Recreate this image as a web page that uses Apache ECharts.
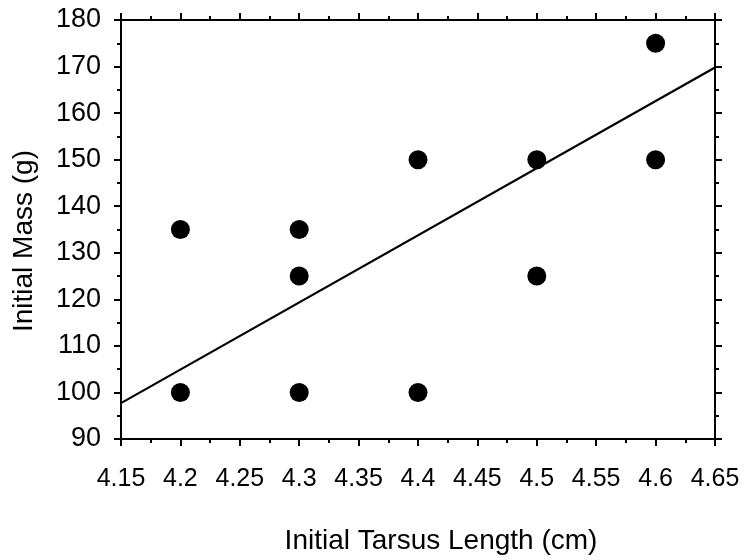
<!DOCTYPE html>
<html>
<head>
<meta charset="utf-8">
<script src="https://cdn.jsdelivr.net/npm/echarts@6/dist/echarts.min.js"></script>
<style>html,body{margin:0;padding:0;background:#fff}#c{width:746px;height:560px}</style>
</head>
<body>
<div id="c"></div>
<script>
var tarsus = [4.2, 4.2, 4.3, 4.3, 4.3, 4.4, 4.4, 4.5, 4.5, 4.6, 4.6];
var mass   = [100, 135, 135, 125, 100, 150, 100, 150, 125, 175, 150];
var fitX = [4.15, 4.65];
var fitY = [97.7, 169.8];
var xTitle = 'Initial Tarsus Length (cm)';
var yTitle = 'Initial Mass (g)';

var pts = tarsus.map(function (x, i) { return [x, mass[i]]; });
var fit = fitX.map(function (x, i) { return [x, fitY[i]]; });

var font = '"Liberation Sans", Arial, sans-serif';
var lineStyle = { color: '#000', width: 2 };

function fmtX(v) { return (Math.round(v * 100) / 100).toString(); }

var chart = echarts.init(document.getElementById('c'), null, { renderer: 'canvas' });
chart.setOption({
  animation: false,
  backgroundColor: '#fff',
  grid: { left: 121, right: 31, top: 20, bottom: 117 },
  xAxis: [{
    type: 'value', min: 4.15, max: 4.65, interval: 0.05,
    position: 'bottom',
    name: xTitle, nameLocation: 'middle', nameGap: 88,
    nameTextStyle: { fontFamily: font, fontSize: 28, color: '#000', padding: [0, 0, 0, 46] },
    axisLine: { show: true, onZero: false, lineStyle: lineStyle },
    axisTick: { show: true, inside: false, length: 7, lineStyle: lineStyle },
    minorTick: { show: true, splitNumber: 2, length: 4, lineStyle: { color: '#000', width: 2 } },
    axisLabel: { fontFamily: font, fontSize: 25, color: '#000', margin: 28, formatter: fmtX, showMinLabel: true, showMaxLabel: true },
    splitLine: { show: false }
  }, {
    type: 'value', min: 4.15, max: 4.65, interval: 0.05,
    position: 'top',
    axisLine: { show: true, onZero: false, lineStyle: lineStyle },
    axisTick: { show: true, inside: false, length: 7, lineStyle: lineStyle },
    minorTick: { show: true, splitNumber: 2, length: 4, lineStyle: { color: '#000', width: 2 } },
    axisLabel: { show: false },
    splitLine: { show: false }
  }],
  yAxis: [{
    type: 'value', min: 90, max: 180, interval: 10,
    position: 'left',
    name: yTitle, nameLocation: 'middle', nameGap: 83, nameRotate: 90,
    nameTextStyle: { fontFamily: font, fontSize: 28, color: '#000', padding: [0, 23, 0, 0] },
    axisLine: { show: true, onZero: false, lineStyle: lineStyle },
    axisTick: { show: true, inside: false, length: 7, lineStyle: lineStyle },
    minorTick: { show: true, splitNumber: 2, length: 4, lineStyle: { color: '#000', width: 2 } },
    axisLabel: { fontFamily: font, fontSize: 27, color: '#000', margin: 20, padding: [5, 0, 0, 0] },
    splitLine: { show: false }
  }, {
    type: 'value', min: 90, max: 180, interval: 10,
    position: 'right',
    axisLine: { show: true, onZero: false, lineStyle: lineStyle },
    axisTick: { show: true, inside: false, length: 7, lineStyle: lineStyle },
    minorTick: { show: true, splitNumber: 2, length: 4, lineStyle: { color: '#000', width: 2 } },
    axisLabel: { show: false },
    splitLine: { show: false }
  }],
  series: [{
    type: 'line', data: fit, xAxisIndex: 0, yAxisIndex: 0,
    showSymbol: false, symbol: 'none',
    lineStyle: { color: '#000', width: 2.2 }, z: 3
  }, {
    type: 'scatter', data: pts, xAxisIndex: 0, yAxisIndex: 0,
    symbol: 'circle', symbolSize: 19,
    itemStyle: { color: '#000', opacity: 1 }, z: 4
  }]
});
</script>
</body>
</html>
